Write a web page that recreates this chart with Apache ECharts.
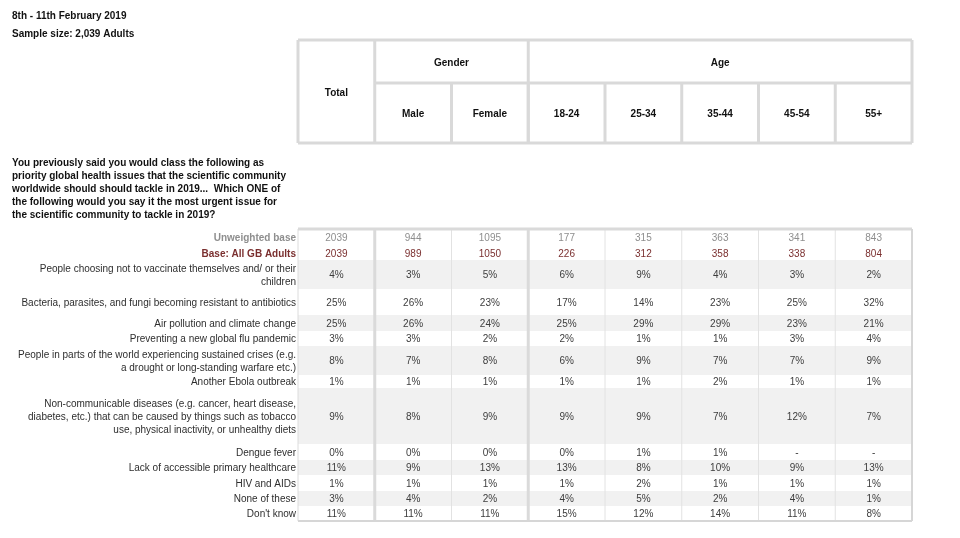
<!DOCTYPE html>
<html>
<head>
<meta charset="utf-8">
<script src="https://cdn.jsdelivr.net/npm/echarts@6/dist/echarts.min.js"></script>
<style>html,body{margin:0;padding:0;background:#fff}#c{width:960px;height:538px}</style>
</head>
<body>
<div id="c"></div>
<script>
// ---------- DATA ----------
const dateText = '8th - 11th February 2019';
const sampleText = 'Sample size: 2,039 Adults';
const questionLines = [
  'You previously said you would class the following as',
  'priority global health issues that the scientific community',
  'worldwide should should tackle in 2019...  Which ONE of',
  'the following would you say it the most urgent issue for',
  'the scientific community to tackle in 2019?'
];
const totalHeader = 'Total';
const groupHeaders = ['Gender', 'Age'];
const groupSpans = [2, 5];
const subHeaders = ['Male', 'Female', '18-24', '25-34', '35-44', '45-54', '55+'];

const rowLabels = [
  'Unweighted base',
  'Base: All GB Adults',
  'People choosing not to vaccinate themselves and/ or their\nchildren',
  'Bacteria, parasites, and fungi becoming resistant to antibiotics',
  'Air pollution and climate change',
  'Preventing a new global flu pandemic',
  'People in parts of the world experiencing sustained crises (e.g.\na drought or long-standing warfare etc.)',
  'Another Ebola outbreak',
  'Non-communicable diseases (e.g. cancer, heart disease,\ndiabetes, etc.) that can be caused by things such as tobacco\nuse, physical inactivity, or unhealthy diets',
  'Dengue fever',
  'Lack of accessible primary healthcare',
  'HIV and AIDs',
  'None of these',
  "Don't know"
];

const unweightedBase   = [2039, 944, 1095, 177, 315, 363, 341, 843];
const weightedBase     = [2039, 989, 1050, 226, 312, 358, 338, 804];
const vaccinate        = [4, 3, 5, 6, 9, 4, 3, 2];
const antibiotics      = [25, 26, 23, 17, 14, 23, 25, 32];
const airPollution     = [25, 26, 24, 25, 29, 29, 23, 21];
const fluPandemic      = [3, 3, 2, 2, 1, 1, 3, 4];
const sustainedCrises  = [8, 7, 8, 6, 9, 7, 7, 9];
const ebola            = [1, 1, 1, 1, 1, 2, 1, 1];
const nonCommunicable  = [9, 8, 9, 9, 9, 7, 12, 7];
const dengue           = [0, 0, 0, 0, 1, 1, null, null];
const primaryHealthcare= [11, 9, 13, 13, 8, 10, 9, 13];
const hivAids          = [1, 1, 1, 1, 2, 1, 1, 1];
const noneOfThese      = [3, 4, 2, 4, 5, 2, 4, 1];
const dontKnow         = [11, 11, 11, 15, 12, 14, 11, 8];

const percentRows = [vaccinate, antibiotics, airPollution, fluPandemic, sustainedCrises, ebola,
  nonCommunicable, dengue, primaryHealthcare, hivAids, noneOfThese, dontKnow];

// ---------- LAYOUT / STYLE ----------
const FONT = '"Liberation Sans", Arial, sans-serif';
const FS = 10;
const TEXT_DY = 1.2;
const nCols = 1 + subHeaders.length;
const headRowHeights = [43, 60];
const rowHeights = [17, 14, 29, 26, 16, 15, 29, 13, 56, 16, 15, 16, 15, 15];
const headTotal = headRowHeights.reduce((a, b) => a + b, 0);
const bodyTotal = rowHeights.reduce((a, b) => a + b, 0);
const rowStart = [];
rowHeights.reduce((acc, h, i) => { rowStart[i] = acc; return acc + h; }, 0);

const headBorder = '#d9d9d9';
const stripeColor = '#f1f1f1';
const valueColor = '#3d3d3d';
const labelColor = '#2e2e2e';
const greyColor = '#8e8e8e';
const baseColor = '#7a2f2f';

// body rows, built from arrays
const bodyRows = [];
bodyRows.push({ label: rowLabels[0], texts: unweightedBase.map(String), kind: 'unw' });
bodyRows.push({ label: rowLabels[1], texts: weightedBase.map(String), kind: 'base' });
percentRows.forEach((arr, i) => {
  bodyRows.push({ label: rowLabels[i + 2], texts: arr.map(v => v === null ? '-' : v + '%'), kind: 'pct' });
});

const cells = [];
bodyRows.forEach((row, r) => row.texts.forEach((t, c) => cells.push({ r, c, t, kind: row.kind })));
const stripeRows = bodyRows.map((_, i) => i).filter(i => i >= 2 && i % 2 === 0);

// header cells: [colStart, colEnd, rowStart, rowEnd, text]
const headCells = [];
headCells.push([0, 1, 0, 2, totalHeader]);
let gc = 1;
groupHeaders.forEach((g, i) => { headCells.push([gc, gc + groupSpans[i], 0, 1, g]); gc += groupSpans[i]; });
subHeaders.forEach((s, i) => headCells.push([i + 1, i + 2, 1, 2, s]));
const headY = [0, headRowHeights[0], headTotal];

// header lines: col/row boundaries
const headLines = [];
headLines.push([0, 0, nCols, 0], [0, headTotal, nCols, headTotal], [0, 0, 0, headTotal], [nCols, 0, nCols, headTotal]);
headLines.push([1, 0, 1, headTotal], [1, headRowHeights[0], nCols, headRowHeights[0]]);
gc = 1;
groupSpans.forEach(s => { gc += s; if (gc < nCols) headLines.push([gc, 0, gc, headTotal]); });
for (let c = 2; c < nCols; c++) headLines.push([c, headRowHeights[0], c, headTotal]);

// body lines: [x1,y1,x2,y2,width,color]
const groupBounds = [1];
gc = 1; groupSpans.forEach(s => { gc += s; groupBounds.push(gc); });
const bodyLines = [];
bodyLines.push([0, 0, 0, bodyTotal, 1, '#dcdcdc']);
for (let c = 1; c < nCols; c++) {
  if (groupBounds.includes(c)) bodyLines.push([c, 0, c, bodyTotal, 3, '#dadada']);
  else bodyLines.push([c, 0, c, bodyTotal, 1, '#e2e2e2']);
}
bodyLines.push([0, 0, nCols, 0, 3, '#dadada']);
bodyLines.push([nCols, 0, nCols, bodyTotal, 2, '#d6d6d6']);
bodyLines.push([0, bodyTotal, nCols, bodyTotal, 2, '#d6d6d6']);

const gridLeft = 298, gridWidth = 614;

const chart = echarts.init(document.getElementById('c'), null, { renderer: 'canvas' });
const hiddenX = (idx) => ({ type: 'value', gridIndex: idx, min: 0, max: nCols, show: false });
const hiddenY = (idx, max) => ({ type: 'value', gridIndex: idx, min: 0, max, inverse: true, show: false });
const titleStyle = { fontFamily: FONT, fontSize: FS, fontWeight: 'bold', color: '#111', lineHeight: 13 };

chart.setOption({
  animation: false,
  backgroundColor: '#ffffff',
  title: [
    { text: dateText, left: 12, top: 10, padding: 0, textStyle: titleStyle },
    { text: sampleText, left: 12, top: 28, padding: 0, textStyle: titleStyle },
    { text: questionLines.join('\n'), left: 12, top: 156.5, padding: 0, textStyle: titleStyle }
  ],
  grid: [
    { left: gridLeft, width: gridWidth, top: 40, height: headTotal },
    { left: gridLeft, width: gridWidth, top: 229, height: bodyTotal }
  ],
  xAxis: [hiddenX(0), hiddenX(1)],
  yAxis: [hiddenY(0, headTotal), hiddenY(1, bodyTotal)],
  series: [
    { // header text
      type: 'custom', xAxisIndex: 0, yAxisIndex: 0, clip: false, silent: true,
      data: headCells.map((_, i) => [i]),
      renderItem: (params, api) => {
        const h = headCells[params.dataIndex];
        const p = api.coord([(h[0] + h[1]) / 2, (headY[h[2]] + headY[h[3]]) / 2]);
        return { type: 'text', style: { x: p[0], y: p[1] + 1.5, text: h[4], fill: '#111', font: 'bold ' + FS + 'px ' + FONT, align: 'center', verticalAlign: 'middle' } };
      }
    },
    { // header borders
      type: 'custom', xAxisIndex: 0, yAxisIndex: 0, clip: false, silent: true,
      data: headLines.map((_, i) => [i]),
      renderItem: (params, api) => {
        const l = headLines[params.dataIndex];
        const a = api.coord([l[0], l[1]]), b = api.coord([l[2], l[3]]);
        return { type: 'line', shape: { x1: a[0], y1: a[1], x2: b[0], y2: b[1] }, style: { stroke: headBorder, lineWidth: 3 } };
      }
    },
    { // stripes
      type: 'custom', xAxisIndex: 1, yAxisIndex: 1, clip: false, silent: true,
      data: stripeRows.map(r => [r]),
      renderItem: (params, api) => {
        const r = stripeRows[params.dataIndex];
        const a = api.coord([0, rowStart[r]]), b = api.coord([nCols, rowStart[r] + rowHeights[r]]);
        return { type: 'rect', shape: { x: a[0], y: a[1], width: b[0] - a[0], height: b[1] - a[1] }, style: { fill: stripeColor } };
      }
    },
    { // body borders
      type: 'custom', xAxisIndex: 1, yAxisIndex: 1, clip: false, silent: true,
      data: bodyLines.map((_, i) => [i]),
      renderItem: (params, api) => {
        const l = bodyLines[params.dataIndex];
        const a = api.coord([l[0], l[1]]), b = api.coord([l[2], l[3]]);
        return { type: 'line', shape: { x1: a[0], y1: a[1], x2: b[0], y2: b[1] }, style: { stroke: l[5], lineWidth: l[4] } };
      }
    },
    { // row labels
      type: 'custom', xAxisIndex: 1, yAxisIndex: 1, clip: false, silent: true,
      data: bodyRows.map((_, i) => [i]),
      renderItem: (params, api) => {
        const r = params.dataIndex, row = bodyRows[r];
        const p = api.coord([0, rowStart[r] + rowHeights[r] / 2]);
        const bold = row.kind !== 'pct';
        const fill = row.kind === 'unw' ? greyColor : row.kind === 'base' ? baseColor : labelColor;
        return { type: 'text', style: { x: p[0] - 2, y: p[1] + TEXT_DY, text: row.label, fill, font: (bold ? 'bold ' : '') + FS + 'px ' + FONT, align: 'right', verticalAlign: 'middle', lineHeight: 13 } };
      }
    },
    { // values
      type: 'custom', xAxisIndex: 1, yAxisIndex: 1, clip: false, silent: true,
      data: cells.map((_, i) => [i]),
      renderItem: (params, api) => {
        const cl = cells[params.dataIndex];
        const p = api.coord([cl.c + 0.5, rowStart[cl.r] + rowHeights[cl.r] / 2]);
        const fill = cl.kind === 'unw' ? greyColor : cl.kind === 'base' ? baseColor : valueColor;
        return { type: 'text', style: { x: p[0], y: p[1] + TEXT_DY, text: cl.t, fill, font: FS + 'px ' + FONT, align: 'center', verticalAlign: 'middle' } };
      }
    }
  ]
});
</script>
</body>
</html>
